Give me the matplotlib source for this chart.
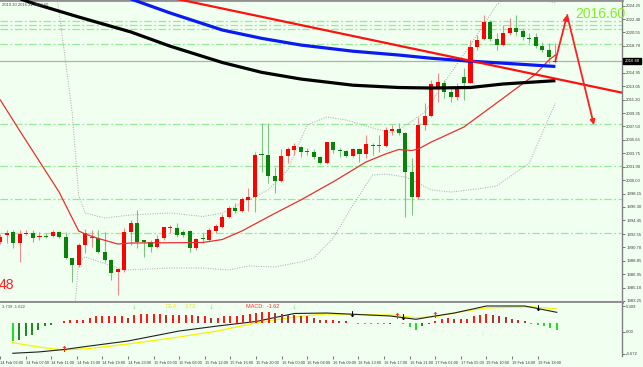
import matplotlib
matplotlib.use("Agg")
import matplotlib.pyplot as plt
import numpy as np

# ---------------- data ----------------
opens = [1991.48, 1992.42, 1992.87, 1991.26, 1992.51, 1992.65, 1992.09, 1992.28, 1992.28, 1992.87,
         1992.09, 1989.26, 1988.25, 1991.03, 1991.95, 1991.95, 1990.10, 1988.94, 1987.32, 1987.55,
         1992.87, 1994.12, 1991.68, 1991.48, 1990.79, 1991.95, 1993.43, 1993.43, 1992.87, 1992.97,
         1990.57, 1991.95, 1991.72, 1993.01, 1993.57, 1994.95, 1996.12, 1995.75, 1997.27, 1997.73,
         2003.59, 2003.52, 2000.60, 1999.91, 2003.38, 2004.21, 2004.67, 2004.08, 2003.98, 2003.20,
         2002.37, 2005.28, 2004.21, 2004.08, 2003.42, 2004.31, 2003.62, 2004.91, 2004.77, 2004.77,
         2006.89, 2007.09, 2006.62, 2001.20, 1997.73, 2007.69, 2008.93, 2013.00, 2013.56, 2012.31,
         2011.61, 2014.39, 2013.56, 2018.56, 2019.58, 2022.03, 2019.58, 2018.79, 2020.42, 2021.20,
         2020.74, 2019.83, 2019.94, 2018.65, 2018.10, 2016.48]
highs = [1992.55, 1993.11, 1993.11, 1993.11, 1993.11, 1993.11, 1992.87, 1992.65, 1993.11, 1992.97,
         1992.87, 1989.26, 1991.26, 1993.21, 1993.11, 1993.11, 1992.87, 1989.08, 1987.79, 1993.34,
         1994.50, 1995.88, 1991.72, 1991.72, 1992.42, 1993.57, 1993.80, 1994.12, 1993.11, 1993.11,
         1991.95, 1992.65, 1993.38, 1993.94, 1995.33, 1996.44, 1996.86, 1997.73, 1998.94, 2003.98,
         2008.00, 2007.92, 2001.90, 2004.31, 2004.67, 2005.14, 2004.77, 2004.45, 2004.31, 2003.38,
         2005.37, 2005.37, 2004.53, 2004.21, 2004.45, 2004.45, 2006.30, 2005.14, 2006.30, 2007.45,
         2007.69, 2007.92, 2006.75, 2003.06, 2008.84, 2010.70, 2013.93, 2014.91, 2013.93, 2012.82,
         2013.47, 2015.56, 2019.49, 2020.18, 2022.96, 2022.26, 2020.46, 2021.57, 2022.54, 2022.96,
         2021.15, 2020.46, 2020.46, 2019.21, 2019.07, 2019.10]
lows = [1991.17, 1991.30, 1990.61, 1988.70, 1992.42, 1991.48, 1991.72, 1991.95, 1992.09, 1991.95,
        1989.08, 1985.93, 1987.92, 1989.87, 1990.79, 1989.98, 1988.70, 1986.17, 1984.08, 1987.32,
        1991.03, 1990.57, 1989.40, 1990.10, 1990.57, 1991.72, 1992.65, 1992.18, 1992.09, 1990.10,
        1990.33, 1991.26, 1991.58, 1992.69, 1993.38, 1994.77, 1995.47, 1995.61, 1995.75, 1995.65,
        2001.20, 1999.59, 1998.20, 1999.81, 2002.37, 2003.52, 2003.28, 2003.52, 2002.92, 2002.27,
        2002.27, 2003.84, 2003.20, 2003.28, 2003.20, 2002.59, 2003.06, 2003.52, 2003.98, 2004.67,
        2006.30, 2006.30, 1994.95, 1995.19, 1997.37, 2006.99, 2008.80, 2010.92, 2011.43, 2010.92,
        2011.16, 2011.16, 2013.47, 2018.10, 2019.49, 2019.35, 2018.10, 2018.65, 2020.18, 2020.18,
        2019.49, 2019.07, 2018.38, 2017.82, 2016.29, 2016.31]
closes = [1992.18, 1992.65, 1991.26, 1992.55, 1992.74, 1991.95, 1992.28, 1992.09, 1992.87, 1992.09,
          1989.18, 1988.25, 1991.03, 1992.65, 1992.18, 1990.10, 1988.94, 1987.18, 1987.65, 1992.87,
          1994.12, 1991.48, 1991.48, 1990.79, 1991.86, 1993.49, 1993.57, 1992.42, 1992.42, 1990.57,
          1991.82, 1991.82, 1993.11, 1993.66, 1994.95, 1996.12, 1995.75, 1997.37, 1997.73, 2003.52,
          2003.52, 2000.60, 1999.91, 2003.38, 2004.31, 2004.77, 2003.98, 2003.89, 2003.20, 2002.37,
          2005.28, 2004.21, 2004.08, 2003.42, 2004.31, 2003.62, 2005.01, 2004.77, 2004.91, 2006.99,
          2007.09, 2006.62, 2001.20, 1997.73, 2007.69, 2008.93, 2013.38, 2013.70, 2012.31, 2011.61,
          2013.00, 2013.47, 2018.56, 2019.49, 2022.03, 2019.58, 2018.79, 2020.42, 2021.20, 2020.64,
          2019.94, 2019.69, 2018.65, 2018.10, 2017.08, 2016.60]

# moving averages / bands read at selected bars
ma_black_bars = [0, 5, 12, 20, 26, 34, 40, 46, 54, 61, 66, 72, 77, 85]
ma_black_vals = [2026.15, 2024.58, 2022.68, 2020.60, 2018.63, 2016.36, 2015.00, 2014.07, 2013.21,
                 2012.89, 2012.82, 2012.89, 2013.38, 2013.84]
ma_blue_bars = [18, 20, 26, 34, 40, 46, 54, 61, 66, 72, 77, 85]
ma_blue_vals = [2025.87, 2025.18, 2023.24, 2020.87, 2019.72, 2018.79, 2017.93, 2017.40, 2016.95,
                2016.54, 2016.27, 2015.81]
bb_mid_bars = [0, 3, 9, 12, 13, 15, 18, 20, 31, 34, 37, 42, 46, 51, 56, 59, 61, 63, 64, 66, 69, 71,
               76, 82, 84, 85]
bb_mid_vals = [2011.16, 2006.85, 1998.38, 1992.97, 1992.55, 1991.93, 1991.16, 1991.30, 1991.37,
               1991.79, 1992.97, 1995.40, 1997.27, 1999.81, 2002.55, 2003.66, 2004.28, 2004.14,
               2004.35, 2005.32, 2006.57, 2007.41, 2010.74, 2014.77, 2016.71, 2017.40]
bb_up_bars = [8, 9, 11, 12, 13, 16, 20, 26, 31, 34, 37, 41, 44, 47, 50, 53, 57, 60, 62, 65, 69, 73,
              76, 79, 83, 85]
bb_up_vals = [2029.90, 2023.37, 2009.49, 1997.97, 1995.47, 1994.77, 1995.19, 1995.47, 1994.98,
              1995.47, 1996.86, 1998.66, 2001.44, 2007.69, 2008.80, 2008.38, 2007.27, 2006.57,
              2007.55, 2009.49, 2014.91, 2020.18, 2024.35, 2026.71, 2025.04, 2024.62]
bb_lo_bars = [11, 12, 13, 19, 26, 31, 35, 38, 42, 46, 48, 51, 54, 57, 59, 62, 64, 66, 69, 73, 76,
              81, 85]
bb_lo_vals = [1977.83, 1988.66, 1989.36, 1987.55, 1987.83, 1987.83, 1987.55, 1988.11, 1987.97,
              1988.66, 1989.22, 1992.00, 1996.58, 2000.74, 2000.88, 2000.47, 1999.63, 1998.66,
              1998.38, 1998.80, 1999.22, 2002.41, 2010.74]
trend_bars = [20, 96]
trend_prices = [2026.53, 2012.02]
arrow_bars = [85, 86.8, 90.9]
arrow_prices = [2016.60, 2022.96, 2007.69]
hlevels = [2022.19, 2021.57, 2020.97, 2018.99, 2007.78, 2001.97, 1997.38, 1992.73]
current_price = 2016.60

price_ticks = [2024.25, 2022.40, 2020.55, 2018.70, 2014.95, 2013.05, 2011.20, 2009.35, 2007.50,
               2005.65, 2003.75, 2001.90, 2000.00, 1998.15, 1996.30, 1994.45, 1992.55, 1990.70,
               1988.85, 1986.95, 1985.10, 1983.25]

# MACD panel
hist = [-3.6, -3.4, -2.6, -2.4, -1.4, -0.6, -0.4, 0.1, 0.4, 0.6, 0.6, 0.6, 1.0, 1.4, 1.4, 1.4, 1.4,
        1.4, 1.0, 1.6, 1.8, 1.8, 1.8, 1.8, 1.6, 1.6, 1.6, 1.6, 1.6, 1.4, 1.4, 1.0, 1.0, 1.4, 1.4,
        1.4, 1.6, 1.8, 2.0, 2.2, 2.2, 2.0, 1.8, 1.6, 1.6, 1.4, 1.4, 1.0, 0.6, 0.6, 0.6, 0.4, 0.4,
        0.1, -0.15, -0.2, -0.2, -0.2, -0.2, -0.1, 0.1, -0.1, -0.8, -1.4, -0.6, -0.2, 0.4, 0.8, 1.0,
        0.8, 0.8, 0.8, 1.4, 1.6, 1.8, 1.6, 1.4, 1.2, 0.8, 0.6, 0.4, -0.1, -0.4, -0.6, -1.0, -1.4]
dif_bars = [0, 4, 8, 12, 18, 26, 32, 38, 44, 49, 59, 63, 66, 69, 74, 80, 85]
dif_vals = [-4.52, -4.25, -3.74, -3.01, -1.97, 0.11, 1.15, 2.09, 3.75, 3.85, 3.23, 2.54, 3.23, 3.85,
            5.31, 5.31, 4.00]
dea_bars = [0, 4, 8, 12, 18, 26, 32, 38, 44, 49, 59, 63, 66, 70, 74, 81, 85]
dea_vals = [-2.32, -3.21, -3.84, -3.53, -2.59, -1.14, 0.11, 1.78, 3.02, 3.65, 3.44, 2.88, 3.08, 4.12,
            4.89, 5.16, 4.69]
macd_ticks = [5.309, 0.0, -4.672]
macd_tick_labels = ["5.309", "0.00", "-4.672"]
sig_up_red = [8, 60, 66]
sig_dn_black = [53, 61, 82]
sig_dn_green = [19, 31, 44]

time_tick_bars = [-2, 2, 6, 10, 14, 18, 22, 26, 30, 34, 38, 42, 46, 50, 54, 58, 62, 66, 70, 74, 78, 82]
time_labels = ["14 Feb 02:00", "14 Feb 07:00", "14 Feb 11:00", "14 Feb 15:00", "14 Feb 19:00",
               "14 Feb 23:00", "15 Feb 03:00", "15 Feb 08:00", "15 Feb 12:00", "15 Feb 16:00",
               "15 Feb 20:00", "16 Feb 00:00", "16 Feb 04:00", "16 Feb 09:00", "16 Feb 13:00",
               "16 Feb 17:00", "16 Feb 21:00", "17 Feb 01:00", "17 Feb 05:00", "19 Feb 10:00",
               "19 Feb 14:00", "19 Feb 18:00"]

# ---------------- figure ----------------
W, H = 643, 367
BG = "#F0FFF0"
SMALL = ["Liberation Sans", "DejaVu Sans"]
plt.rcParams["font.family"] = ["Liberation Sans", "DejaVu Sans"]
TICK_FS = 3.1
TIME_FS = 2.75

fig = plt.figure(figsize=(W / 100, H / 100), dpi=100)
fig.patch.set_facecolor(BG)


def rect(x0, y0, x1, y1):
    return [x0 / W, 1 - y1 / H, (x1 - x0) / W, (y1 - y0) / H]


ax = fig.add_axes(rect(0, 0, 622, 302))
axm = fig.add_axes(rect(0, 303, 622, 356))
for a in (ax, axm):
    a.set_facecolor(BG)
    a.set_xlim(-0.046, 95.2)
    a.spines["left"].set_visible(False)
    a.spines["right"].set_color("#808080")
    a.spines["right"].set_linewidth(1.0)

ax.set_ylim(1983.11, 2025.04)
ax.spines["top"].set_color("#909090")
ax.spines["top"].set_linewidth(2.0)
ax.spines["bottom"].set_color("#909090")
ax.spines["bottom"].set_linewidth(2.2)
axm.spines["top"].set_visible(False)
axm.spines["bottom"].set_visible(False)

n = len(opens)
idx = np.arange(n)
o = np.array(opens); c = np.array(closes); h = np.array(highs); l = np.array(lows)
up = c >= o

# horizontal levels
for lv in hlevels:
    ax.axhline(lv, color="#98E898", lw=0.9, ls=(0, (6, 2, 1.5, 2)), zorder=1)
ax.axhline(current_price, color="#B0B0B0", lw=0.9, zorder=1)

# bollinger bands
ax.plot(bb_up_bars, bb_up_vals, color="#A8A8A8", lw=0.7, ls=(0, (1, 1.5)), zorder=2)
ax.plot(bb_lo_bars, bb_lo_vals, color="#A8A8A8", lw=0.7, ls=(0, (1, 1.5)), zorder=2)

# candles
wick_col = np.where(up, "#F08A8A", "#7DC47D")
body_col = np.where(up, "#FF0000", "#0A820A")
ax.vlines(idx, l, h, colors=wick_col, lw=0.8, zorder=3)
bh = np.maximum(np.abs(c - o), 0.12)
ax.bar(idx, bh, bottom=np.minimum(o, c), width=0.62, color=body_col, linewidth=0, zorder=4)

# moving averages
ax.plot(bb_mid_bars, bb_mid_vals, color="#E83030", lw=0.9, zorder=5)
ax.plot(ma_black_bars, ma_black_vals, color="black", lw=2.3, zorder=6, solid_capstyle="butt")
ax.plot(ma_blue_bars, ma_blue_vals, color="#0A1AF0", lw=2.3, zorder=6, solid_capstyle="butt")
ax.plot(trend_bars, trend_prices, color="#FF1010", lw=1.6, zorder=7)

# projection arrows
ax.annotate("", xy=(arrow_bars[1], arrow_prices[1]), xytext=(arrow_bars[0], arrow_prices[0]),
            arrowprops=dict(arrowstyle="-|>", color="#FF2020", lw=1.3, mutation_scale=7,
                            shrinkA=0, shrinkB=0), zorder=8)
ax.annotate("", xy=(arrow_bars[2], arrow_prices[2]), xytext=(arrow_bars[1], arrow_prices[1]),
            arrowprops=dict(arrowstyle="-|>", color="#FF2020", lw=1.3, mutation_scale=7,
                            shrinkA=0, shrinkB=0), zorder=8)

# price axis
ax.yaxis.tick_right()
ax.set_yticks(price_ticks)
ax.set_yticklabels([f"{v:.2f}" for v in price_ticks])
ax.tick_params(axis="y", length=2, width=0.6, color="#606060", pad=1.0, labelsize=TICK_FS,
               labelcolor="#404040")
ax.set_xticks([])

ax.text(1.004, current_price, f"{current_price:.2f}", transform=ax.get_yaxis_transform(),
        ha="left", va="center", fontsize=TICK_FS, color="white",
        bbox=dict(facecolor="black", edgecolor="black", pad=0.8), zorder=10, clip_on=False)

# texts on main chart
fig.text(575 / W, 1 - 13.5 / H, f"{current_price:.2f}", color="#80F020", fontsize=10,
         ha="left", va="center")
fig.text(-1 / W, 1 - 285 / H, "48", color="#FF2020", fontsize=10, ha="left", va="center")
fig.text(2 / W, 1 - 4.5 / H, "2019.10 2016.31 2016.60", color="#505050", fontsize=3.0,
         ha="left", va="center")

# ---------------- MACD ----------------
axm.set_ylim(-5.088, 5.933)
axh = axm.twinx()
axh.set_ylim(-6.6, 4.0)
axh.set_xlim(-0.046, 95.2)
axh.axis("off")
hv = np.array(hist)
prev = np.concatenate([[hv[0]], hv[:-1]])
cols = []
for v, p in zip(hv, prev):
    if v >= 0:
        cols.append("#FF1A1A" if v >= p else "#A83838")
    else:
        cols.append("#1E8C1E" if v > p else "#22DD22")
axh.bar(idx, hv, width=0.32, color=cols, linewidth=0)

axm.plot(dea_bars, dea_vals, color="#F5F500", lw=0.9, zorder=5)
axm.plot(dif_bars, dif_vals, color="#202020", lw=0.8, zorder=6)

for b in sig_up_red:
    yv = np.interp(b, dif_bars, dif_vals)
    axm.text(b, yv, "↑", color="#FF2020", fontsize=6, fontweight="bold", ha="center",
             va="center", family="DejaVu Sans", zorder=8)
for b in sig_dn_black:
    yv = np.interp(b, dif_bars, dif_vals)
    axm.text(b, yv, "↓", color="black", fontsize=6, fontweight="bold", ha="center",
             va="center", family="DejaVu Sans", zorder=8)
for b in sig_dn_green:
    axm.text(b, 5.1, "↓", color="#88DD88", fontsize=4, ha="center", va="center",
             family="DejaVu Sans", zorder=8)

axm.yaxis.tick_right()
axm.set_yticks(macd_ticks)
axm.set_yticklabels(macd_tick_labels)
axm.tick_params(axis="y", length=2, width=0.6, color="#606060", pad=1.0, labelsize=TICK_FS,
                labelcolor="#404040")

axm.set_xticks(time_tick_bars)
axm.set_xticklabels(time_labels, ha="left")
axm.tick_params(axis="x", length=2, width=0.6, color="#606060", pad=1.5, labelsize=TIME_FS,
                labelcolor="#404040", bottom=True)

fig.text(2 / W, 1 - 307 / H, "3.739 -1.622", color="#505050", fontsize=3.0, ha="left",
         va="center")
fig.text(166 / W, 1 - 307 / H, "DEA:", color="#E8E820", fontsize=4, ha="left", va="center")
fig.text(185 / W, 1 - 307 / H, "3.73", color="#E8E820", fontsize=4, ha="left", va="center")
fig.text(246 / W, 1 - 307 / H, "MACD:  -1.62", color="#FF3030", fontsize=4, ha="left",
         va="center")

fig.savefig("out.png", dpi=100, facecolor=BG)
